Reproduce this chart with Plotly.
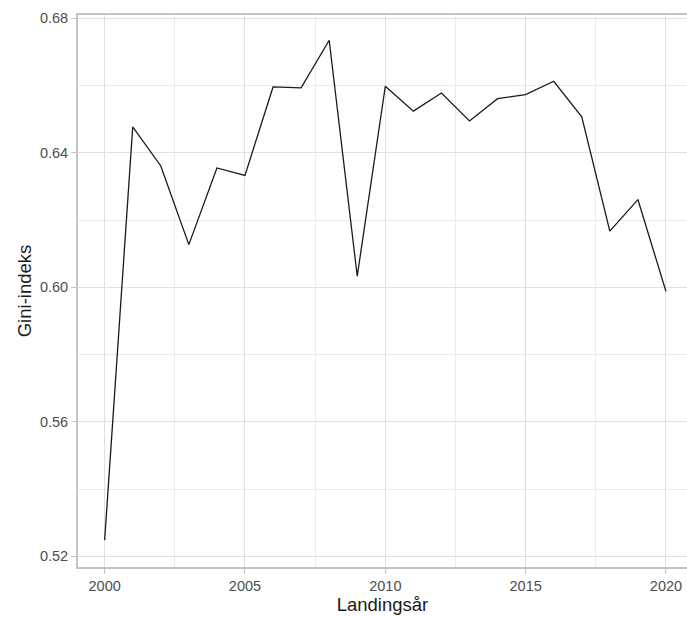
import plotly.graph_objects as go

years = list(range(2000, 2021))
gini = [0.5248, 0.6477, 0.6361, 0.6127, 0.6355, 0.6333, 0.6596, 0.6593, 0.6735,
        0.6033, 0.6598, 0.6524, 0.6578, 0.6495, 0.6561, 0.6573, 0.6613, 0.6507,
        0.6167, 0.6261, 0.5988]
y_ticks = [0.52, 0.56, 0.60, 0.64, 0.68]
x_ticks = [2000, 2005, 2010, 2015, 2020]

fig = go.Figure()
fig.add_trace(go.Scatter(x=years, y=gini, mode="lines",
                         line=dict(color="#1a1a1a", width=1.3),
                         showlegend=False, hoverinfo="x+y"))

grid = "#e0e0e0"
minor_grid = "#ebebeb"
axis_col = "#c4c4c4"
fig.update_layout(
    width=687, height=617,
    margin=dict(l=78, r=0, t=15, b=50),
    plot_bgcolor="white", paper_bgcolor="white",
    font=dict(family="Liberation Sans, Arial, sans-serif"),
)
fig.update_xaxes(
    range=[1999.05, 2020.75],
    tickvals=x_ticks, ticktext=[str(v) for v in x_ticks],
    showgrid=True, gridcolor=grid, gridwidth=1.3,
    minor=dict(dtick=2.5, tick0=2002.5, showgrid=True, gridcolor=minor_grid, gridwidth=1),
    showline=True, linecolor=axis_col, linewidth=1.8, mirror=True,
    ticks="outside", ticklen=5, tickcolor=axis_col,
    tickfont=dict(size=14.5, color="#4d4d4d"),
    title=dict(text="Landingsår", font=dict(size=18.5, color="#1a1a1a"), standoff=2),
    zeroline=False, automargin=False,
)
fig.update_yaxes(
    range=[0.5168, 0.681],
    tickvals=y_ticks, ticktext=[f"{v:.2f}" for v in y_ticks],
    showgrid=True, gridcolor=grid, gridwidth=1.3,
    minor=dict(dtick=0.04, tick0=0.54, showgrid=True, gridcolor=minor_grid, gridwidth=1),
    showline=True, linecolor=axis_col, linewidth=1.8, mirror=False,
    ticks="outside", ticklen=5, tickcolor=axis_col,
    tickfont=dict(size=14.5, color="#4d4d4d"),
    title=dict(text="Gini-indeks", font=dict(size=18.5, color="#1a1a1a"), standoff=3),
    zeroline=False, automargin=False,
)
fig.write_html("out.html", config={"displayModeBar": False},
               post_script="document.body.style.margin='0';")
